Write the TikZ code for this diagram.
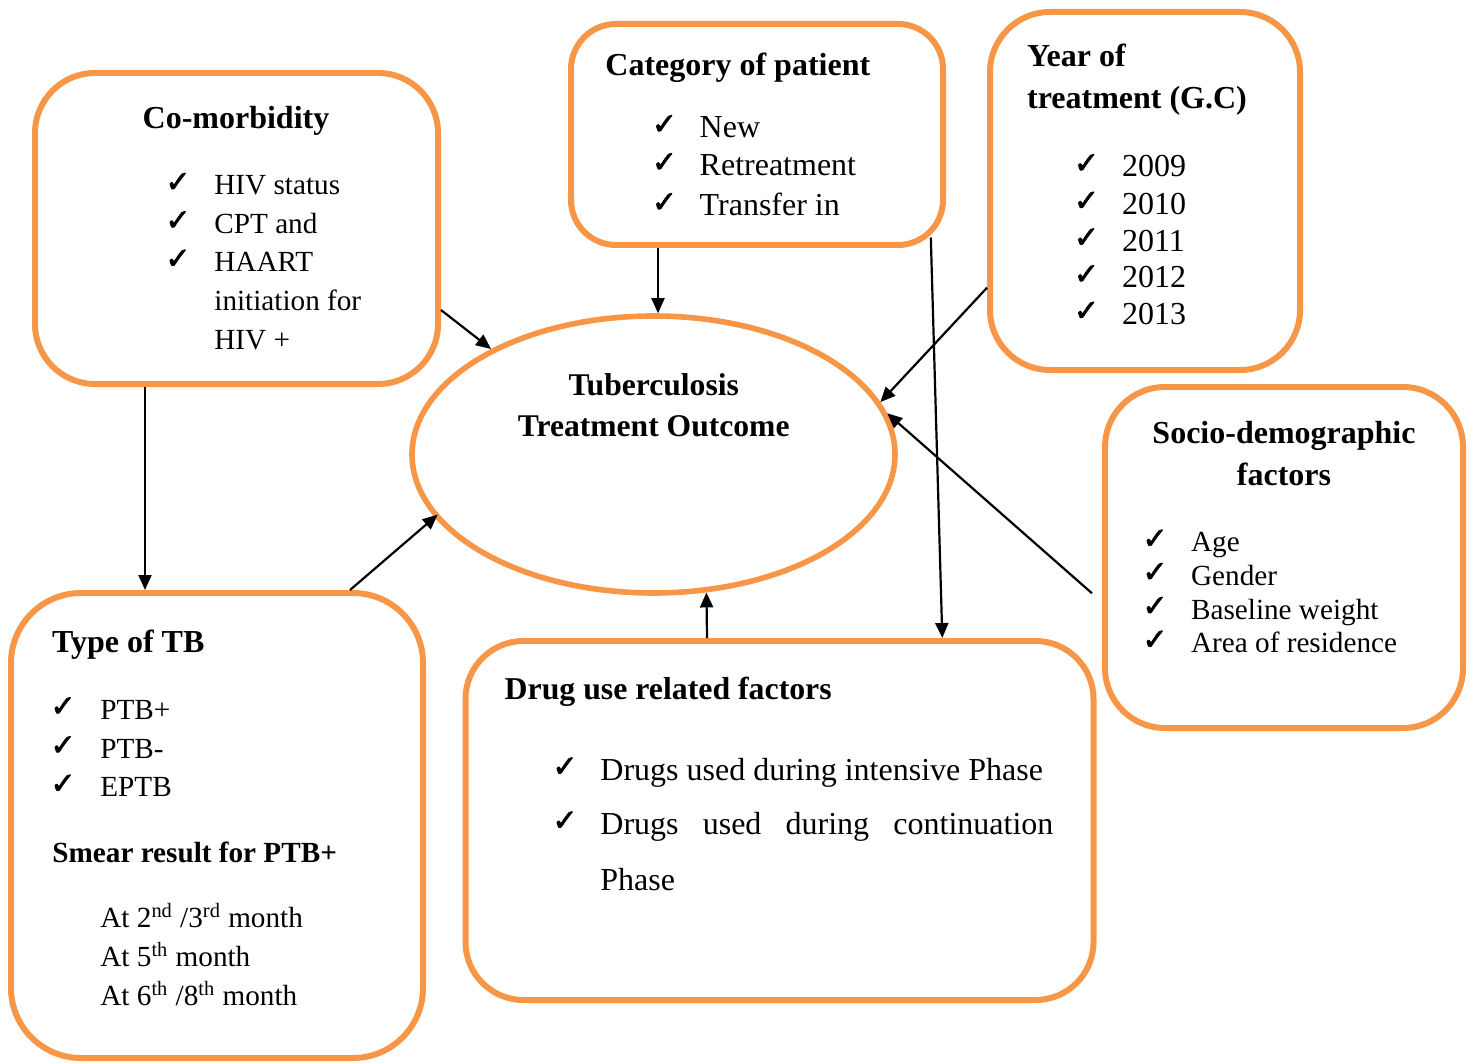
\documentclass[tikz,border=0pt]{standalone}
\usepackage{fontspec}
\setmainfont{Liberation Serif}
\newfontfamily\ckfont[BoldFont={DejaVu Sans}, BoldFeatures={FakeBold=2.2}]{DejaVu Sans}
\usetikzlibrary{shapes.geometric,arrows.meta}
\definecolor{tbor}{HTML}{F79646}
\tikzset{
  box/.style={draw=tbor, line width=3pt, rounded corners=#1, inner sep=0pt},
  box/.default=30pt,
  ellbox/.style={draw=tbor, line width=2.8pt, ellipse, inner sep=0pt},
  arr/.style={-{Triangle[length=7.5pt,width=6.5pt]}, line width=1.1pt, black},
  tx/.style={anchor=base west, inner sep=0pt, font=\fontsize{14.6}{17}\selectfont},
  txl/.style={anchor=base west, inner sep=0pt, font=\fontsize{16}{19}\selectfont},
  txd/.style={anchor=base west, inner sep=0pt, font=\fontsize{16}{19}\selectfont},
  hd/.style={anchor=base west, inner sep=0pt, font=\bfseries\fontsize{16}{19}\selectfont},
  ck/.style={inner sep=0pt, font=\ckfont\bfseries\fontsize{15}{17}\selectfont},
}
\begin{document}
\begin{tikzpicture}[x=0.5pt,y=-0.5pt]
\useasboundingbox (0,0) rectangle (1471,1064);
% boxes
\node[box, minimum width=201.5pt, minimum height=155.5pt] (como) at (236.5,228.5) {};
\node[box=22.5pt, minimum width=186pt, minimum height=110.5pt] (cat) at (757,134.5) {};
\node[box, minimum width=155pt, minimum height=179pt] (year) at (1145,191) {};
\node[box, minimum width=179pt, minimum height=170.5pt] (socio) at (1284,557.5) {};
\node[box=35pt, minimum width=206pt, minimum height=232.5pt] (tb) at (217,825.5) {};
\node[box=29pt, minimum width=314pt, minimum height=179.5pt] (drug) at (779.5,820.5) {};
\node[ellbox, minimum width=241.5pt, minimum height=138.5pt] (ell) at (653.5,454.5) {};
% connectors
\draw[arr] ([yshift=-40.75pt]como.east) -- (ell.147.5);
\draw[arr] ([xshift=-49.5pt]cat.south) -- ([xshift=-49.5pt]cat.south |- ell.north);
\draw[arr] ([xshift=-7.6pt,yshift=5.25pt]cat.south east) -- ([xshift=81.4pt]drug.north);
\draw[arr] ([yshift=-48.35pt]year.west) -- (ell.13);
\draw[arr] ([xshift=-5pt,yshift=-17.9pt]socio.west) -- (ell.10);
\draw[arr] ([xshift=-36.25pt]drug.north) -- (ell.-69);
\draw[arr, shorten >=-2pt] ([xshift=66.5pt]tb.north) -- (ell.196);
\draw[arr] ([xshift=-45.75pt]como.south) -- ([xshift=-45.75pt]como.south |- tb.north);
% ellipse text
\node[inner sep=0pt, anchor=base, font=\bfseries\fontsize{15.8}{18}\selectfont] (ell-t1) at (653.7,395.7) {Tuberculosis};
\node[inner sep=0pt, anchor=base, font=\bfseries\fontsize{15.8}{18}\selectfont] (ell-t2) at (653.7,436) {Treatment Outcome};
% co-morbidity
\node[hd, anchor=base] (como-h) at (236,128.3) {Co-morbidity};
\foreach \t/\y [count=\i] in {HIV status/195, CPT and/233.3, HAART/271.7, initiation for/310, HIV +/349.3}
  \node[tx] (como-t\i) at (214,\y) {\t};
\foreach \y [count=\i] in {195,233.3,271.7}
  \node[ck] (como-c\i) at (178,\y-12.5) {✓};
% category
\node[hd] (cat-h) at (605,75.7) {Category of patient};
\foreach \t/\y [count=\i] in {New/137.7, Retreatment/175.7, Transfer in/215.7}{
  \node[txl] (cat-t\i) at (699.3,\y) {\t};
  \node[ck] (cat-c\i) at (664.5,\y-13) {✓};
}
% year
\node[hd] (year-h1) at (1026.7,66.7) {Year of};
\node[hd] (year-h2) at (1026.7,108.3) {treatment (G.C)};
\foreach \t/\y [count=\i] in {2009/176.7, 2010/214.3, 2011/251, 2012/287.7, 2013/324.3}{
  \node[txl] (year-t\i) at (1121.7,\y) {\t};
  \node[ck] (year-c\i) at (1086.5,\y-13) {✓};
}
% socio
\node[hd, anchor=base] (socio-h1) at (1284,443.3) {Socio-demographic};
\node[hd, anchor=base] (socio-h2) at (1284,485) {factors};
\foreach \t/\y [count=\i] in {Age/551.7, Gender/585, Baseline weight/619, Area of residence/652.7}{
  \node[tx] (socio-t\i) at (1190.7,\y) {\t};
  \node[ck] (socio-c\i) at (1155,\y-12.5) {✓};
}
% type of TB
\node[hd] (tb-h) at (51.7,652.7) {Type of TB};
\foreach \t/\y [count=\i] in {PTB+/719.3, PTB-/758.3, EPTB/796.7}{
  \node[tx] (tb-t\i) at (100,\y) {\t};
  \node[ck] (tb-c\i) at (63,\y-12.5) {✓};
}
\node[hd, font=\bfseries\fontsize{14.6}{17}\selectfont] (tb-h2) at (52,862.7) {Smear result for PTB+};
\node[tx] (tb-s1) at (100,927.7) {At 2\textsuperscript{nd} /3\textsuperscript{rd} month};
\node[tx] (tb-s2) at (100,966.7) {At 5\textsuperscript{th} month};
\node[tx] (tb-s3) at (100,1005.7) {At 6\textsuperscript{th} /8\textsuperscript{th} month};
% drug
\node[hd, font=\bfseries\fontsize{15.9}{18}\selectfont] (drug-h) at (504.3,699.3) {Drug use related factors};
\node[txd] (drug-t1) at (600,780) {Drugs used during intensive Phase};
\node[txd] (drug-t2) at (600,834) {\makebox[226.5pt][s]{Drugs used during continuation}};
\node[txd] (drug-t3) at (600,890) {Phase};
\node[ck] (drug-c1) at (565,780-13) {✓};
\node[ck] (drug-c2) at (565,834-13) {✓};
\end{tikzpicture}
\end{document}
